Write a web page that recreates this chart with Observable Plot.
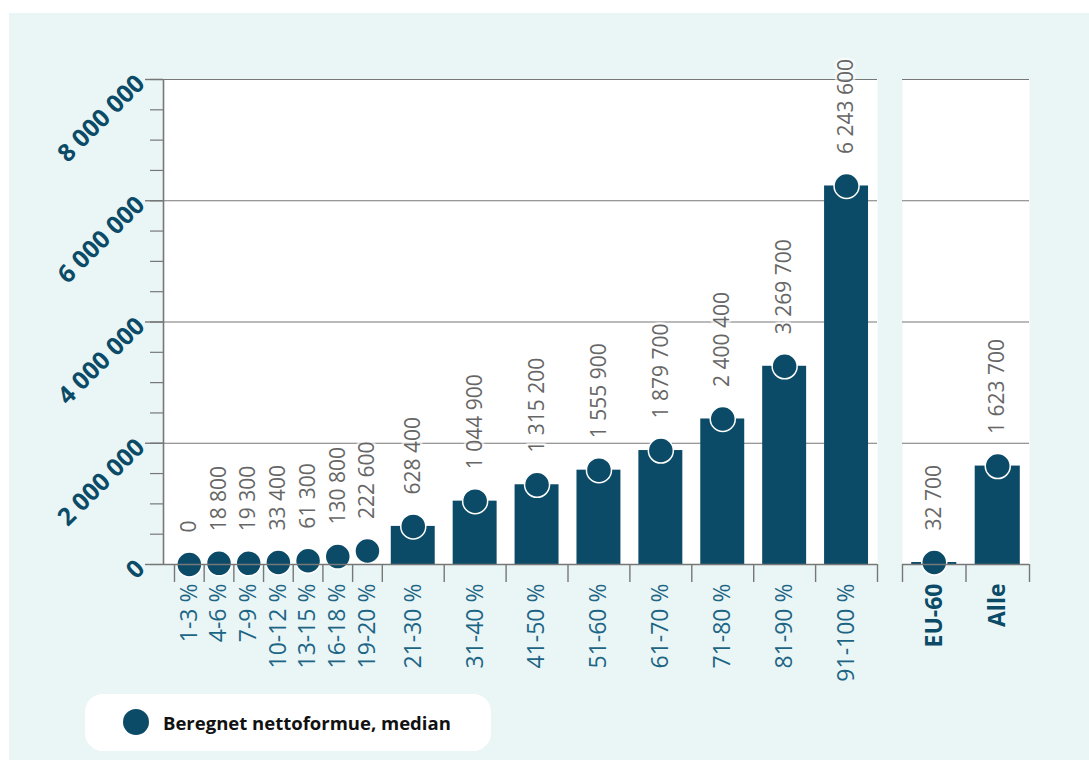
<!DOCTYPE html>
<html>
<head>
<meta charset="utf-8">
<script src="https://cdn.jsdelivr.net/npm/d3@7"></script>
<script src="https://cdn.jsdelivr.net/npm/@observablehq/plot@0.6"></script>
<style>
  body { margin: 0; background: #ffffff; font-family: "Open Sans", sans-serif; }
  #wrap { position: relative; width: 1089px; height: 760px; overflow: hidden; }
  #bg { position: absolute; left: 9px; top: 13px; width: 1080px; height: 747px; background: #eaf6f6; }
  #p1 { position: absolute; left: 0; top: 0; }
  #p2 { position: absolute; left: 890px; top: 0; }
  #legend { position: absolute; left: 85px; top: 694px; width: 406px; height: 57px; background: #fff;
            border-radius: 18px; }
  #legend .sw { position: absolute; left: 38px; top: 15px; width: 26px; height: 26px; border-radius: 50%; background: #0b4b67; }
  #legend .lbl { position: absolute; left: 78px; top: 0; line-height: 57px; font-size: 18.5px; font-weight: 700; color: #111; }
</style>
</head>
<body>
<div id="wrap">
  <div id="bg"></div>
  <div id="p1"></div>
  <div id="p2"></div>
  <div id="legend"><span class="sw"></span><span class="lbl" id="legendText"></span></div>
</div>
<script>
// ---- data ----
const categories = ["1-3 %", "4-6 %", "7-9 %", "10-12 %", "13-15 %", "16-18 %", "19-20 %",
  "21-30 %", "31-40 %", "41-50 %", "51-60 %", "61-70 %", "71-80 %", "81-90 %", "91-100 %"];
const medians = [0, 18800, 19300, 33400, 61300, 130800, 222600,
  628400, 1044900, 1315200, 1555900, 1879700, 2400400, 3269700, 6243600];
const narrowGroups = 7; // first groups are narrow (no bars)
const totalCategories = ["EU-60", "Alle"];
const totalMedians = [32700, 1623700];
const yTicks = [0, 2000000, 4000000, 6000000, 8000000];
const legendLabel = "Beregnet nettoformue, median";

// ---- layout helpers ----
const color = "#0b4b67";
const gridColor = "#777777";
const NARROW = 1, WIDE = 2.085, PAD = 0.37, BARFRAC = 0.355;
const fmt = v => d3.format(",")(v).replace(/,/g, " ");
document.getElementById("legendText").textContent = legendLabel;

let acc = 0;
const rows = categories.map((c, i) => {
  const w = i < narrowGroups ? NARROW : WIDE;
  const r = {cat: c, value: medians[i], x1: acc, x2: acc + w, xc: acc + w / 2, w, bar: i >= narrowGroups};
  acc += w;
  return r;
});
const bounds1 = [0, ...rows.map(d => d.x2)];
const rows2 = totalCategories.map((c, i) => ({cat: c, value: totalMedians[i], x1: i, x2: i + 1, xc: i + 0.5, w: 1, bar: true}));
const bounds2 = [0, 1, 2];
const minorTicks = d3.range(0, 8000001, 500000);

const common = {
  height: 700, marginTop: 79, marginBottom: 136,
  style: {background: "transparent", overflow: "visible", fontFamily: "'Open Sans', sans-serif"},
  y: {domain: [0, 8000000], axis: null}
};

function panelMarks(data, bounds, catStyle) {
  return [
    Plot.frame({fill: "white", stroke: "none"}),
    Plot.ruleY(yTicks.filter(t => t > 0), {stroke: gridColor, strokeWidth: 1.2}),
    Plot.rectY(data.filter(d => d.bar), {
      x1: d => d.xc - BARFRAC * d.w, x2: d => d.xc + BARFRAC * d.w, y: "value", fill: color
    }),
    Plot.dot(data, {x: "xc", y: "value", r: 12.5, fill: color, stroke: "white", strokeWidth: 1.5}),
    Plot.ruleY([0], {stroke: gridColor, strokeWidth: 1.6}),
    Plot.axisX({ticks: bounds, tickSize: 18, tickFormat: () => "", stroke: gridColor, strokeWidth: 1.4, label: null}),
    Plot.text(data, {
      x: "xc", y: "value", text: d => fmt(d.value), rotate: -90, textAnchor: "start", lineAnchor: "middle",
      dy: -32, fill: "#666", fontSize: 21,
      stroke: "white", strokeOpacity: 0.6, strokeWidth: 5, paintOrder: "stroke"
    }),
    Plot.text(data, {
      x: "xc", text: "cat", frameAnchor: "bottom", dy: 19, rotate: -90, textAnchor: "end", lineAnchor: "middle",
      ...catStyle
    })
  ];
}

const p1 = Plot.plot({
  ...common,
  width: 890, marginLeft: 163, marginRight: 13,
  x: {domain: [-PAD, acc], axis: null},
  marks: [
    ...panelMarks(rows, bounds1, {fill: "#1d6585", fontSize: 23}),
    Plot.ruleX([-PAD], {stroke: gridColor, strokeWidth: 1.6}),
    Plot.axisY({ticks: minorTicks, tickSize: 13, tickFormat: () => "", stroke: gridColor, strokeWidth: 1.2, label: null}),
    Plot.axisY({ticks: yTicks, tickSize: 18, tickFormat: () => "", stroke: gridColor, strokeWidth: 1.4, label: null}),
    Plot.text(yTicks, {
      y: d => d, text: d => fmt(d), frameAnchor: "left", dx: -23, rotate: -45, textAnchor: "end",
      lineAnchor: "middle", fill: color, fontSize: 24.5, fontWeight: "bold"
    })
  ]
});
document.getElementById("p1").appendChild(p1);

const p2 = Plot.plot({
  ...common,
  width: 199, marginLeft: 12, marginRight: 60,
  x: {domain: [0, 2], axis: null},
  marks: panelMarks(rows2, bounds2, {fill: color, fontSize: 23, fontWeight: "bold"})
});
document.getElementById("p2").appendChild(p2);
</script>
</body>
</html>
